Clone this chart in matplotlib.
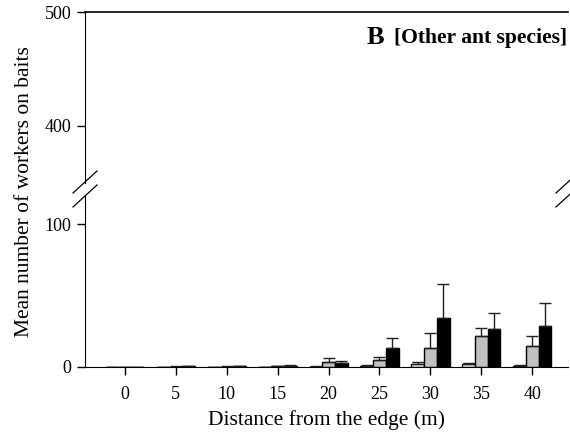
import matplotlib
matplotlib.use("Agg")
import matplotlib.pyplot as plt
from matplotlib.lines import Line2D
import numpy as np

# distances from the edge (m)
distancias = [0, 5, 10, 15, 20, 25, 30, 35, 40]

# mean number of workers (three bait treatments) and upper error
blanco = [0.0, 0.0, 0.1, 0.1, 0.2, 0.5, 1.9, 2.1, 0.9]
blanco_err = [0.0, 0.0, 0.1, 0.2, 0.3, 0.6, 1.4, 0.7, 0.3]
gris = [0.0, 0.2, 0.3, 0.5, 3.3, 4.9, 13.0, 21.4, 14.4]
gris_err = [0.0, 0.2, 0.2, 0.5, 2.7, 2.1, 10.8, 6.3, 7.5]
negro = [0.0, 0.4, 0.4, 1.0, 2.6, 13.5, 34.5, 26.8, 29.1]
negro_err = [0.0, 0.3, 0.3, 0.6, 1.6, 7.0, 23.8, 11.4, 15.6]

plt.rcParams['font.family'] = ['Liberation Serif', 'DejaVu Serif']

fig = plt.figure(figsize=(5.7, 4.32), dpi=100)
izq, ancho = 0.149, 0.8475
ax_sup = fig.add_axes([izq, 0.5764, ancho, 0.3958])
ax_inf = fig.add_axes([izq, 0.1505, ancho, 0.3958])

x = np.arange(len(distancias))
w = 0.25
series = [(blanco, blanco_err, 'white', -w), (gris, gris_err, '#c0c0c0', 0), (negro, negro_err, 'black', w)]

for ax in (ax_sup, ax_inf):
    for vals, err, color, off in series:
        ax.bar(x + off, vals, width=w, color=color, edgecolor='black', linewidth=1,
               yerr=[np.zeros(len(err)), err], error_kw=dict(ecolor='#202020', elinewidth=1, capsize=4, capthick=1))
    ax.set_xlim(-0.78, 8.7)
    ax.tick_params(axis='both', labelsize=13, direction='out', length=6, width=1)
    ax.spines['right'].set_visible(False)

ax_sup.set_ylim(350, 500)
ax_sup.set_yticks([400, 500])
ax_sup.spines['bottom'].set_visible(False)
ax_sup.set_xticks([])
ax_sup.spines['top'].set_linewidth(1.2)

ax_inf.set_ylim(0, 120)
ax_inf.set_yticks([0, 100])
ax_inf.spines['top'].set_visible(False)
ax_inf.set_xticks(x)
ax_inf.set_xticklabels([str(d) for d in distancias])
ax_inf.tick_params(axis='x', pad=8)
ax_inf.set_xlabel('Distance from the edge (m)', fontsize=15.5, labelpad=5)

fig.text(0.043, 0.556, 'Mean number of workers on baits', rotation=90, fontsize=15.5,
         ha='center', va='center')

ax_sup.text(0.998, 0.85, '[Other ant species]', transform=ax_sup.transAxes, fontsize=15.6,
            fontweight='bold', ha='right', va='center')
ax_sup.text(0.583, 0.85, 'B', transform=ax_sup.transAxes, fontsize=19, fontweight='bold',
            ha='left', va='center')

# marcas de corte del eje
H = 4.32 * 100
W = 5.7 * 100
for xc in (85, 568):
    for yc in (182, 196):
        xs = [(xc - 12) / W, (xc + 12) / W]
        ys = [1 - (yc + 11) / H, 1 - (yc - 11) / H]
        fig.add_artist(Line2D(xs, ys, color='black', linewidth=0.9))

fig.savefig('out.png', dpi=100)
